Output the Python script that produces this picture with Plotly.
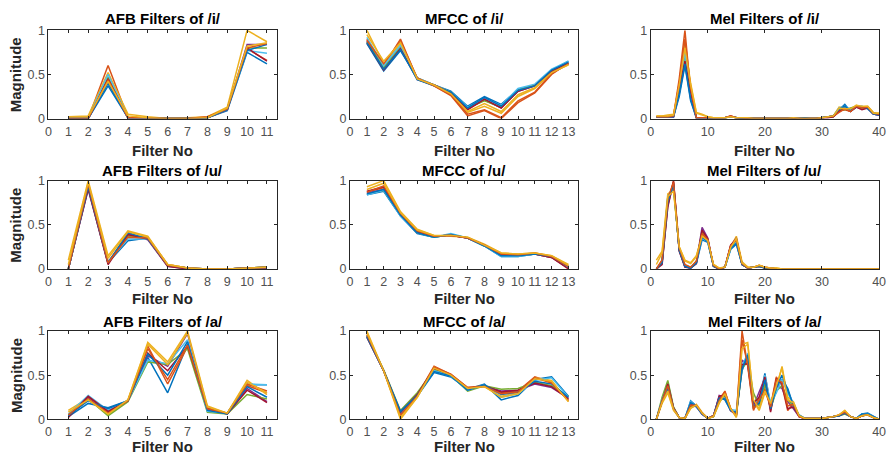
import plotly.graph_objects as go

# ---------------- data ----------------
AFB_X = [1, 2, 3, 4, 5, 6, 7, 8, 9, 10, 11]
MFCC_X = [1, 2, 3, 4, 5, 6, 7, 8, 9, 10, 11, 12, 13]
MEL_X = [1, 2, 3, 4, 5, 6, 7, 8, 9, 10, 11, 12, 13, 14, 15, 16, 17, 18, 19, 20,
         21, 22, 23, 24, 25, 26, 27, 28, 29, 30, 31, 32, 33, 34, 35, 36, 37, 38, 39, 40]

AFB_TICKS = [0, 1, 2, 3, 4, 5, 6, 7, 8, 9, 10, 11]
MFCC_TICKS = [0, 1, 2, 3, 4, 5, 6, 7, 8, 9, 10, 11, 12, 13]
MEL_TICKS = [0, 10, 20, 30, 40]
Y_TICKS = [0, 0.5, 1]
Y_TICK_TEXT = ["0", "0.5", "1"]

AFB_I = [
    [0, 0, 0.37, 0.01, 0.01, 0, 0, 0.01, 0.09, 0.75, 0.62],
    [0, 0, 0.60, 0.01, 0.01, 0, 0, 0.01, 0.10, 0.79, 0.66],
    [0.02, 0.03, 0.52, 0.05, 0.02, 0, 0.01, 0.02, 0.13, 1.0, 0.87],
    [0, 0, 0.42, 0.01, 0.01, 0, 0, 0.01, 0.10, 0.84, 0.84],
    [0, 0, 0.47, 0.01, 0.01, 0, 0, 0.01, 0.11, 0.80, 0.80],
    [0, 0, 0.50, 0.01, 0.01, 0, 0, 0.01, 0.10, 0.77, 0.74],
    [0, 0, 0.45, 0.01, 0.01, 0, 0, 0.01, 0.10, 0.80, 0.65],
    [0, 0, 0.40, 0.01, 0.01, 0, 0, 0.01, 0.10, 0.77, 0.84],
    [0, 0, 0.44, 0.01, 0.01, 0, 0, 0.02, 0.11, 0.80, 0.85],
    [0.02, 0.02, 0.42, 0.03, 0.01, 0, 0, 0.01, 0.12, 0.82, 0.86],
]

MFCC_I = [
    [0.85, 0.54, 0.77, 0.46, 0.38, 0.31, 0.14, 0.25, 0.16, 0.33, 0.38, 0.55, 0.65],
    [0.90, 0.60, 0.90, 0.45, 0.37, 0.26, 0.03, 0.09, 0.00, 0.18, 0.29, 0.50, 0.63],
    [1.00, 0.62, 0.85, 0.46, 0.38, 0.28, 0.07, 0.14, 0.06, 0.25, 0.34, 0.52, 0.61],
    [0.88, 0.57, 0.80, 0.44, 0.38, 0.29, 0.11, 0.21, 0.12, 0.31, 0.37, 0.53, 0.62],
    [0.87, 0.58, 0.82, 0.45, 0.38, 0.30, 0.12, 0.20, 0.13, 0.32, 0.38, 0.54, 0.63],
    [0.92, 0.60, 0.83, 0.46, 0.38, 0.30, 0.13, 0.23, 0.15, 0.34, 0.39, 0.56, 0.65],
    [0.86, 0.55, 0.79, 0.45, 0.38, 0.29, 0.10, 0.22, 0.12, 0.31, 0.37, 0.54, 0.63],
    [0.86, 0.56, 0.78, 0.44, 0.37, 0.30, 0.12, 0.24, 0.14, 0.32, 0.37, 0.55, 0.64],
    [0.89, 0.62, 0.88, 0.46, 0.37, 0.27, 0.05, 0.10, 0.01, 0.20, 0.30, 0.51, 0.62],
    [0.95, 0.65, 0.86, 0.45, 0.38, 0.28, 0.08, 0.17, 0.08, 0.27, 0.35, 0.52, 0.61],
]

MEL_I = [
    [0.02, 0.02, 0.02, 0.02, 0.25, 0.60, 0.20, 0.01, 0.01, 0.01, 0.01, 0.01, 0.01, 0.02, 0.01, 0.01, 0, 0, 0, 0,
     0, 0, 0, 0, 0, 0, 0.01, 0, 0, 0.01, 0.02, 0.03, 0.10, 0.16, 0.08, 0.13, 0.14, 0.11, 0.05, 0.04],
    [0.02, 0.02, 0.02, 0.03, 0.45, 1.00, 0.30, 0.01, 0.01, 0.01, 0.01, 0.01, 0.01, 0.03, 0.01, 0.01, 0, 0, 0, 0,
     0, 0, 0, 0, 0, 0, 0, 0, 0, 0.01, 0.02, 0.03, 0.09, 0.10, 0.08, 0.14, 0.12, 0.13, 0.06, 0.05],
    [0.03, 0.03, 0.04, 0.05, 0.35, 0.85, 0.40, 0.07, 0.05, 0.02, 0.01, 0.01, 0.01, 0.02, 0.01, 0.01, 0.01, 0, 0, 0,
     0, 0, 0, 0, 0.01, 0, 0, 0, 0, 0.01, 0.02, 0.03, 0.13, 0.12, 0.10, 0.15, 0.13, 0.14, 0.07, 0.06],
    [0.02, 0.02, 0.02, 0.02, 0.30, 0.70, 0.25, 0.01, 0.01, 0.01, 0.01, 0.01, 0.01, 0.02, 0.01, 0, 0, 0, 0, 0,
     0, 0, 0, 0, 0, 0, 0, 0, 0, 0.01, 0.01, 0.02, 0.09, 0.12, 0.09, 0.13, 0.11, 0.12, 0.05, 0.04],
    [0.02, 0.02, 0.02, 0.03, 0.30, 0.72, 0.30, 0.01, 0.01, 0.01, 0.01, 0.01, 0.01, 0.02, 0.01, 0, 0, 0, 0, 0,
     0, 0, 0, 0, 0, 0, 0, 0, 0, 0.01, 0.02, 0.02, 0.11, 0.10, 0.12, 0.14, 0.12, 0.13, 0.06, 0.05],
    [0.02, 0.02, 0.02, 0.03, 0.30, 0.75, 0.28, 0.01, 0.01, 0.01, 0.01, 0.01, 0.01, 0.02, 0.01, 0, 0, 0, 0, 0,
     0, 0, 0, 0, 0, 0, 0, 0, 0, 0.01, 0.02, 0.03, 0.12, 0.14, 0.10, 0.14, 0.13, 0.12, 0.06, 0.05],
    [0.02, 0.02, 0.02, 0.02, 0.35, 0.65, 0.30, 0.01, 0.01, 0.01, 0.01, 0.01, 0.01, 0.03, 0.01, 0, 0, 0, 0, 0,
     0, 0, 0, 0, 0, 0, 0, 0, 0, 0.01, 0.01, 0.02, 0.08, 0.11, 0.08, 0.13, 0.10, 0.12, 0.05, 0.04],
    [0.02, 0.02, 0.02, 0.02, 0.28, 0.62, 0.22, 0.01, 0.01, 0.01, 0.01, 0.01, 0.01, 0.02, 0.01, 0, 0, 0, 0, 0,
     0, 0, 0, 0, 0, 0, 0.01, 0, 0, 0.01, 0.02, 0.03, 0.11, 0.14, 0.09, 0.14, 0.13, 0.12, 0.05, 0.04],
    [0.02, 0.02, 0.02, 0.03, 0.40, 0.90, 0.35, 0.01, 0.01, 0.01, 0.01, 0.01, 0.01, 0.03, 0.01, 0.01, 0, 0, 0, 0,
     0, 0, 0, 0, 0, 0, 0, 0, 0, 0.01, 0.02, 0.03, 0.07, 0.11, 0.08, 0.14, 0.12, 0.13, 0.06, 0.05],
    [0.03, 0.03, 0.03, 0.04, 0.38, 0.80, 0.38, 0.06, 0.04, 0.02, 0.01, 0.01, 0.01, 0.02, 0.01, 0.01, 0.01, 0, 0, 0,
     0, 0, 0, 0, 0.01, 0, 0, 0, 0, 0.01, 0.02, 0.03, 0.12, 0.11, 0.11, 0.15, 0.14, 0.14, 0.06, 0.06],
]

AFB_U = [
    [0, 0.92, 0.07, 0.32, 0.35, 0.04, 0.01, 0, 0, 0.01, 0.02],
    [0, 0.95, 0.08, 0.38, 0.36, 0.05, 0.01, 0, 0, 0.01, 0.02],
    [0.10, 1.00, 0.15, 0.43, 0.37, 0.05, 0.01, 0, 0, 0.01, 0.02],
    [0, 0.90, 0.06, 0.40, 0.33, 0.03, 0, 0, 0, 0.01, 0.01],
    [0, 0.93, 0.07, 0.37, 0.35, 0.04, 0, 0, 0, 0.01, 0.02],
    [0, 0.94, 0.08, 0.34, 0.34, 0.04, 0, 0, 0, 0.01, 0.01],
    [0, 0.91, 0.05, 0.39, 0.34, 0.03, 0, 0, 0, 0.01, 0.01],
    [0, 0.93, 0.07, 0.41, 0.34, 0.04, 0.01, 0, 0, 0.01, 0.02],
    [0, 0.96, 0.07, 0.36, 0.35, 0.04, 0.01, 0, 0, 0.01, 0.02],
    [0.05, 0.98, 0.12, 0.42, 0.36, 0.05, 0.01, 0, 0, 0.01, 0.02],
]

MFCC_U = [
    [0.84, 0.88, 0.60, 0.40, 0.36, 0.39, 0.35, 0.26, 0.14, 0.14, 0.17, 0.14, 0.02],
    [0.87, 0.92, 0.62, 0.42, 0.37, 0.38, 0.35, 0.27, 0.17, 0.16, 0.17, 0.13, 0.01],
    [0.93, 1.00, 0.65, 0.45, 0.38, 0.37, 0.36, 0.28, 0.18, 0.17, 0.18, 0.15, 0.05],
    [0.86, 0.90, 0.61, 0.41, 0.37, 0.38, 0.35, 0.27, 0.16, 0.15, 0.17, 0.13, 0.01],
    [0.85, 0.89, 0.61, 0.41, 0.36, 0.39, 0.35, 0.26, 0.15, 0.15, 0.17, 0.14, 0.02],
    [0.84, 0.89, 0.60, 0.41, 0.36, 0.40, 0.35, 0.26, 0.14, 0.14, 0.17, 0.14, 0.02],
    [0.88, 0.93, 0.62, 0.42, 0.37, 0.38, 0.35, 0.27, 0.17, 0.16, 0.17, 0.13, 0.00],
    [0.85, 0.90, 0.61, 0.41, 0.36, 0.39, 0.35, 0.26, 0.15, 0.15, 0.17, 0.14, 0.03],
    [0.87, 0.94, 0.63, 0.43, 0.37, 0.38, 0.35, 0.27, 0.17, 0.16, 0.18, 0.14, 0.03],
    [0.90, 0.97, 0.64, 0.44, 0.38, 0.38, 0.36, 0.27, 0.18, 0.17, 0.18, 0.15, 0.04],
]

MEL_U = [
    [0, 0.08, 0.80, 0.95, 0.22, 0.03, 0.01, 0.06, 0.33, 0.30, 0.03, 0, 0.02, 0.22, 0.28, 0.05, 0.01, 0.02, 0.03, 0.01,
     0.01, 0, 0, 0, 0, 0, 0, 0, 0, 0, 0, 0, 0, 0, 0, 0, 0, 0, 0, 0],
    [0, 0.10, 0.75, 1.00, 0.24, 0.04, 0.02, 0.08, 0.40, 0.33, 0.04, 0, 0.02, 0.25, 0.33, 0.06, 0.01, 0.02, 0.03, 0.02,
     0.01, 0, 0, 0, 0, 0, 0, 0, 0, 0, 0, 0, 0, 0, 0, 0, 0, 0, 0, 0],
    [0.10, 0.20, 0.85, 0.90, 0.25, 0.10, 0.07, 0.15, 0.38, 0.32, 0.05, 0.01, 0.02, 0.25, 0.37, 0.08, 0.02, 0.02, 0.04, 0.02,
     0.01, 0.01, 0, 0, 0, 0, 0, 0, 0, 0, 0, 0, 0, 0, 0, 0, 0, 0, 0, 0],
    [0, 0.06, 0.72, 0.97, 0.21, 0.02, 0.01, 0.07, 0.47, 0.35, 0.03, 0, 0.02, 0.26, 0.35, 0.05, 0.01, 0.02, 0.03, 0.01,
     0.01, 0, 0, 0, 0, 0, 0, 0, 0, 0, 0, 0, 0, 0, 0, 0, 0, 0, 0, 0],
    [0, 0.07, 0.78, 0.93, 0.22, 0.03, 0.02, 0.08, 0.42, 0.33, 0.03, 0, 0.02, 0.24, 0.32, 0.05, 0.01, 0.02, 0.03, 0.01,
     0.01, 0, 0, 0, 0, 0, 0, 0, 0, 0, 0, 0, 0, 0, 0, 0, 0, 0, 0, 0],
    [0, 0.08, 0.82, 0.92, 0.23, 0.04, 0.02, 0.08, 0.35, 0.31, 0.04, 0, 0.02, 0.22, 0.30, 0.06, 0.01, 0.02, 0.03, 0.01,
     0.01, 0, 0, 0, 0, 0, 0, 0, 0, 0, 0, 0, 0, 0, 0, 0, 0, 0, 0, 0],
    [0, 0.05, 0.70, 0.99, 0.20, 0.02, 0.01, 0.06, 0.44, 0.34, 0.03, 0, 0.02, 0.27, 0.34, 0.05, 0.01, 0.02, 0.03, 0.01,
     0.01, 0, 0, 0, 0, 0, 0, 0, 0, 0, 0, 0, 0, 0, 0, 0, 0, 0, 0, 0],
    [0, 0.07, 0.76, 0.96, 0.21, 0.03, 0.01, 0.07, 0.36, 0.31, 0.03, 0, 0.02, 0.23, 0.29, 0.05, 0.01, 0.02, 0.03, 0.01,
     0.01, 0, 0, 0, 0, 0, 0, 0, 0, 0, 0, 0, 0, 0, 0, 0, 0, 0, 0, 0],
    [0, 0.10, 0.80, 0.98, 0.24, 0.05, 0.02, 0.09, 0.40, 0.33, 0.04, 0, 0.02, 0.26, 0.33, 0.06, 0.01, 0.02, 0.04, 0.02,
     0.01, 0, 0, 0, 0, 0, 0, 0, 0, 0, 0, 0, 0, 0, 0, 0, 0, 0, 0, 0],
    [0.05, 0.18, 0.82, 0.88, 0.25, 0.09, 0.06, 0.14, 0.37, 0.32, 0.05, 0.01, 0.02, 0.24, 0.35, 0.07, 0.02, 0.02, 0.04, 0.02,
     0.01, 0.01, 0, 0, 0, 0, 0, 0, 0, 0, 0, 0, 0, 0, 0, 0, 0, 0, 0, 0],
]

AFB_A = [
    [0.03, 0.18, 0.13, 0.21, 0.70, 0.30, 0.85, 0.10, 0.07, 0.39, 0.39],
    [0.05, 0.22, 0.08, 0.21, 0.83, 0.40, 0.82, 0.12, 0.07, 0.38, 0.30],
    [0.10, 0.24, 0.05, 0.22, 0.87, 0.65, 1.00, 0.15, 0.07, 0.44, 0.28],
    [0.03, 0.25, 0.09, 0.21, 0.72, 0.60, 0.97, 0.11, 0.06, 0.35, 0.20],
    [0.05, 0.23, 0.04, 0.20, 0.65, 0.62, 0.80, 0.08, 0.06, 0.28, 0.23],
    [0.06, 0.27, 0.10, 0.21, 0.67, 0.63, 0.90, 0.09, 0.07, 0.40, 0.39],
    [0.02, 0.26, 0.09, 0.21, 0.75, 0.55, 0.83, 0.13, 0.06, 0.33, 0.19],
    [0.04, 0.21, 0.12, 0.21, 0.74, 0.50, 0.88, 0.10, 0.06, 0.37, 0.25],
    [0.05, 0.23, 0.07, 0.21, 0.80, 0.45, 0.84, 0.12, 0.07, 0.40, 0.32],
    [0.08, 0.22, 0.06, 0.22, 0.85, 0.62, 0.98, 0.14, 0.07, 0.42, 0.30],
]

MFCC_A = [
    [0.93, 0.55, 0.07, 0.26, 0.53, 0.48, 0.34, 0.40, 0.22, 0.27, 0.45, 0.48, 0.26],
    [0.95, 0.55, 0.05, 0.27, 0.60, 0.51, 0.36, 0.38, 0.30, 0.32, 0.48, 0.42, 0.22],
    [1.00, 0.55, 0.00, 0.25, 0.59, 0.50, 0.35, 0.37, 0.26, 0.30, 0.47, 0.44, 0.20],
    [0.94, 0.55, 0.08, 0.28, 0.57, 0.50, 0.34, 0.38, 0.32, 0.33, 0.40, 0.36, 0.24],
    [0.95, 0.56, 0.10, 0.30, 0.56, 0.50, 0.32, 0.38, 0.34, 0.35, 0.42, 0.38, 0.26],
    [0.94, 0.55, 0.08, 0.27, 0.55, 0.49, 0.33, 0.39, 0.25, 0.29, 0.44, 0.47, 0.25],
    [0.93, 0.55, 0.08, 0.28, 0.58, 0.50, 0.35, 0.38, 0.31, 0.33, 0.41, 0.37, 0.23],
    [0.94, 0.55, 0.09, 0.27, 0.54, 0.49, 0.33, 0.39, 0.28, 0.31, 0.43, 0.40, 0.25],
    [0.96, 0.55, 0.04, 0.26, 0.59, 0.51, 0.36, 0.37, 0.29, 0.31, 0.47, 0.41, 0.21],
    [0.98, 0.55, 0.02, 0.25, 0.58, 0.50, 0.35, 0.37, 0.25, 0.29, 0.46, 0.43, 0.20],
]

MEL_A = [
    [0, 0.20, 0.35, 0.12, 0.02, 0.01, 0.21, 0.15, 0.06, 0.01, 0.04, 0.25, 0.22, 0.10, 0.08, 0.55, 0.72, 0.12, 0.20, 0.52,
     0.15, 0.35, 0.45, 0.35, 0.15, 0.05, 0.01, 0.01, 0.01, 0.01, 0.02, 0.03, 0.04, 0.07, 0.03, 0.01, 0.06, 0.07, 0.03, 0],
    [0, 0.22, 0.40, 0.13, 0.02, 0.01, 0.15, 0.16, 0.07, 0.01, 0.04, 0.22, 0.32, 0.12, 0.03, 1.00, 0.60, 0.10, 0.25, 0.35,
     0.15, 0.48, 0.38, 0.10, 0.18, 0.03, 0.01, 0.01, 0.01, 0.01, 0.02, 0.03, 0.05, 0.08, 0.03, 0.01, 0.04, 0.05, 0.02, 0],
    [0, 0.18, 0.30, 0.10, 0.02, 0.01, 0.12, 0.17, 0.08, 0.01, 0.03, 0.18, 0.30, 0.13, 0.02, 0.85, 0.87, 0.20, 0.10, 0.30,
     0.20, 0.35, 0.60, 0.25, 0.20, 0.04, 0.01, 0.01, 0.01, 0.01, 0.02, 0.03, 0.05, 0.10, 0.03, 0.01, 0.04, 0.05, 0.02, 0],
    [0, 0.22, 0.42, 0.13, 0.02, 0.01, 0.17, 0.14, 0.06, 0.01, 0.03, 0.27, 0.25, 0.10, 0.05, 0.67, 0.62, 0.15, 0.30, 0.47,
     0.10, 0.38, 0.35, 0.20, 0.12, 0.03, 0.01, 0.01, 0.01, 0.01, 0.02, 0.03, 0.04, 0.07, 0.03, 0.01, 0.04, 0.05, 0.02, 0],
    [0, 0.25, 0.44, 0.14, 0.02, 0.01, 0.14, 0.15, 0.07, 0.01, 0.03, 0.20, 0.27, 0.12, 0.04, 0.58, 0.65, 0.30, 0.15, 0.40,
     0.12, 0.32, 0.38, 0.22, 0.15, 0.04, 0.01, 0.01, 0.01, 0.01, 0.02, 0.03, 0.04, 0.06, 0.03, 0.01, 0.04, 0.05, 0.02, 0],
    [0, 0.22, 0.38, 0.12, 0.02, 0.01, 0.20, 0.14, 0.06, 0.01, 0.04, 0.23, 0.24, 0.11, 0.10, 0.60, 0.75, 0.20, 0.20, 0.50,
     0.18, 0.30, 0.45, 0.30, 0.18, 0.04, 0.01, 0.01, 0.01, 0.01, 0.02, 0.03, 0.04, 0.07, 0.03, 0.01, 0.06, 0.06, 0.03, 0],
    [0, 0.20, 0.40, 0.13, 0.02, 0.01, 0.16, 0.15, 0.06, 0.01, 0.04, 0.26, 0.28, 0.10, 0.05, 0.62, 0.63, 0.18, 0.25, 0.48,
     0.08, 0.46, 0.40, 0.12, 0.14, 0.03, 0.01, 0.01, 0.01, 0.01, 0.02, 0.03, 0.04, 0.07, 0.03, 0.01, 0.04, 0.05, 0.02, 0],
    [0, 0.21, 0.37, 0.12, 0.02, 0.01, 0.19, 0.15, 0.06, 0.01, 0.04, 0.24, 0.23, 0.10, 0.07, 0.57, 0.73, 0.15, 0.18, 0.45,
     0.12, 0.36, 0.50, 0.33, 0.16, 0.04, 0.01, 0.01, 0.01, 0.01, 0.02, 0.03, 0.04, 0.07, 0.03, 0.01, 0.06, 0.06, 0.03, 0],
    [0, 0.21, 0.38, 0.12, 0.02, 0.01, 0.16, 0.16, 0.07, 0.01, 0.04, 0.21, 0.31, 0.12, 0.04, 0.90, 0.62, 0.12, 0.22, 0.33,
     0.14, 0.45, 0.42, 0.15, 0.17, 0.03, 0.01, 0.01, 0.01, 0.01, 0.02, 0.03, 0.05, 0.08, 0.03, 0.01, 0.04, 0.05, 0.02, 0],
    [0, 0.19, 0.32, 0.11, 0.02, 0.01, 0.13, 0.16, 0.07, 0.01, 0.03, 0.19, 0.29, 0.12, 0.03, 0.80, 0.85, 0.22, 0.12, 0.32,
     0.18, 0.38, 0.58, 0.22, 0.19, 0.04, 0.01, 0.01, 0.01, 0.01, 0.02, 0.03, 0.05, 0.10, 0.03, 0.01, 0.04, 0.05, 0.02, 0],
]

TITLES = [
    ["AFB Filters of /i/", "MFCC of /i/", "Mel Filters of /i/"],
    ["AFB Filters of /u/", "MFCC of /u/", "Mel Filters of /u/"],
    ["AFB Filters of /a/", "MFCC of /a/", "Mel Filters of /a/"],
]
X_LABEL = "Filter No"
Y_LABEL = "Magnitude"

# ---------------- styling / layout ----------------
COLORS = ["#0072BD", "#D95319", "#EDB120", "#7E2F8E", "#77AC30", "#4DBEEE", "#A2142F"]
W, H = 894, 468
COL_PX = [(46, 277), (351, 582), (655, 886)]
ROW_PX = [(24, 115), (179, 270), (334, 425)]
TITLE_Y = [12, 169, 324.5]
XLAB_Y = [147.5, 300, 453.5]
FONT = "Liberation Sans, Arial, Helvetica, sans-serif"
AX_COLOR = "#262626"
TICK_COLOR = "#505050"

panels = [
    [(AFB_X, AFB_I, 11.5, AFB_TICKS), (MFCC_X, MFCC_I, 13.6, MFCC_TICKS), (MEL_X, MEL_I, 40, MEL_TICKS)],
    [(AFB_X, AFB_U, 11.5, AFB_TICKS), (MFCC_X, MFCC_U, 13.6, MFCC_TICKS), (MEL_X, MEL_U, 40, MEL_TICKS)],
    [(AFB_X, AFB_A, 11.5, AFB_TICKS), (MFCC_X, MFCC_A, 13.6, MFCC_TICKS), (MEL_X, MEL_A, 40, MEL_TICKS)],
]

fig = go.Figure()
annotations = []
layout_axes = {}

idx = 0
for r in range(3):
    for c in range(3):
        idx += 1
        xs, series, xmax, ticks = panels[r][c]
        xname = "x" if idx == 1 else f"x{idx}"
        yname = "y" if idx == 1 else f"y{idx}"
        for k, ys in enumerate(series):
            fig.add_trace(go.Scatter(
                x=xs, y=ys, mode="lines", xaxis=xname, yaxis=yname,
                line=dict(color=COLORS[k % len(COLORS)], width=1.5),
                showlegend=False, hoverinfo="skip",
            ))
        x0, x1 = COL_PX[c]
        y0, y1 = ROW_PX[r]
        common = dict(
            showline=True, linecolor=AX_COLOR, linewidth=1, mirror="allticks",
            ticks="inside", ticklen=3, tickwidth=1, tickcolor=AX_COLOR,
            showgrid=False, zeroline=False,
            tickfont=dict(family=FONT, size=12.5, color=TICK_COLOR),
            fixedrange=True,
        )
        layout_axes["xaxis" if idx == 1 else f"xaxis{idx}"] = dict(
            common, domain=[x0 / W, x1 / W], range=[0, xmax],
            tickmode="array", tickvals=ticks, ticktext=[str(t) for t in ticks],
            anchor=yname, ticklabelstandoff=1,
        )
        layout_axes["yaxis" if idx == 1 else f"yaxis{idx}"] = dict(
            common, domain=[1 - y1 / H, 1 - y0 / H], range=[0, 1],
            tickmode="array", tickvals=Y_TICKS, ticktext=Y_TICK_TEXT,
            anchor=xname,
        )
        xc = (x0 + x1) / 2 / W
        annotations.append(dict(
            text=f"<b>{TITLES[r][c]}</b>", xref="paper", yref="paper",
            x=xc, y=1 - TITLE_Y[r] / H, xanchor="center", yanchor="middle",
            showarrow=False, font=dict(family=FONT, size=15, color="#000000"),
        ))
        annotations.append(dict(
            text=f"<b>{X_LABEL}</b>", xref="paper", yref="paper",
            x=xc, y=1 - XLAB_Y[r] / H, xanchor="center", yanchor="middle",
            showarrow=False, font=dict(family=FONT, size=15, color="#262626"),
        ))
        if c == 0:
            annotations.append(dict(
                text=f"<b>{Y_LABEL}</b>", xref="paper", yref="paper",
                x=13 / W, y=1 - (y0 + y1) / 2 / H, xanchor="center", yanchor="middle",
                textangle=-90, showarrow=False,
                font=dict(family=FONT, size=15, color="#262626"),
            ))

fig.update_layout(
    width=W, height=H, margin=dict(l=0, r=0, t=0, b=0),
    paper_bgcolor="white", plot_bgcolor="white",
    annotations=annotations, **layout_axes,
)

fig.write_html("out.html")
